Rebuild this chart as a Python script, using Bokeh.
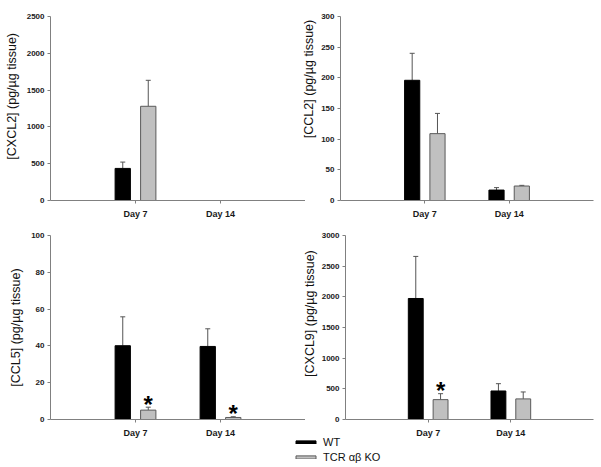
import math
from bokeh.plotting import figure
from bokeh.layouts import column, row
from bokeh.models import (ColumnDataSource, FactorRange, Range1d, FixedTicker,
                          Whisker, TeeHead, Legend, LegendItem)
from bokeh.transform import dodge
from bokeh.core.properties import value
from bokeh.embed import file_html
from bokeh.resources import INLINE

NAN = float("nan")
NBSP = "\u00a0"

# ---------------- data ----------------
days = ["Day 7", "Day 14"]
group_labels = ["WT", "TCR αβ KO"]

cxcl2_wt = [436, NAN]
cxcl2_wt_sem = [86, NAN]
cxcl2_ko = [1280, NAN]
cxcl2_ko_sem = [353, NAN]
cxcl2_star = [False, False]
cxcl2_ticks = [0, 500, 1000, 1500, 2000, 2500]

ccl2_wt = [196, 17]
ccl2_wt_sem = [44, 4]
ccl2_ko = [109, 23.6]
ccl2_ko_sem = [33, 1.1]
ccl2_star = [False, False]
ccl2_ticks = [0, 50, 100, 150, 200, 250, 300]

ccl5_wt = [40.1, 39.7]
ccl5_wt_sem = [15.7, 9.6]
ccl5_ko = [5.1, 1.1]
ccl5_ko_sem = [1.6, 0.4]
ccl5_star = [True, True]
ccl5_ticks = [0, 20, 40, 60, 80, 100]

cxcl9_wt = [1973, 465]
cxcl9_wt_sem = [686, 119]
cxcl9_ko = [324, 336]
cxcl9_ko_sem = [97, 113]
cxcl9_star = [True, False]
cxcl9_ticks = [0, 500, 1000, 1500, 2000, 2500, 3000]

FONT = "Liberation Sans"
AXIS_COLOR = "#808080"
ERR_COLOR = "#555555"
WT_COLOR = "black"
KO_COLOR = "#c0c0c0"
KO_LINE = "#5a5a5a"
OFF = 0.15
BAR_W = 0.18


def panel(ylabel, wt, wt_sem, ko, ko_sem, stars, ticks, width, height,
          bl, bt, bb, br, title_gap, title_shift):
    p = figure(x_range=FactorRange(factors=days, range_padding=0.5,
                                   range_padding_units="absolute"),
               y_range=Range1d(0, ticks[-1]),
               width=width, height=height, output_backend="svg",
               toolbar_location=None, min_border_left=bl, min_border_right=br,
               min_border_top=bt, min_border_bottom=bb)
    p.outline_line_color = None
    p.grid.visible = False
    p.background_fill_color = None
    p.border_fill_color = None

    src = ColumnDataSource(dict(
        day=days,
        wt=wt, wt_hi=[a + b for a, b in zip(wt, wt_sem)],
        ko=ko, ko_hi=[a + b for a, b in zip(ko, ko_sem)],
        star=["*" if s else "" for s in stars],
    ))
    p.vbar(x=dodge("day", -OFF, range=p.x_range), top="wt",
           width=BAR_W, source=src, fill_color=WT_COLOR,
           line_color=WT_COLOR, line_width=1)
    p.vbar(x=dodge("day", OFF, range=p.x_range), top="ko",
           width=BAR_W, source=src, fill_color=KO_COLOR,
           line_color=KO_LINE, line_width=1)
    for lo, hi, off in (("wt", "wt_hi", -OFF), ("ko", "ko_hi", OFF)):
        w = Whisker(source=src, base=dodge("day", off, range=p.x_range),
                    lower=lo, upper=hi, line_color=ERR_COLOR, line_width=1,
                    lower_head=None,
                    upper_head=TeeHead(size=5, line_color=ERR_COLOR,
                                       line_width=1))
        p.add_layout(w)
    p.text(x=dodge("day", OFF, range=p.x_range), y="ko_hi", text="star",
           source=src, text_font=value(FONT), text_font_style="bold",
           text_font_size="24px", text_align="center",
           text_baseline="alphabetic", y_offset=-3, text_color="black")

    xa = p.xaxis[0]
    xa.axis_line_color = AXIS_COLOR
    xa.major_tick_line_color = AXIS_COLOR
    xa.major_tick_in = 0
    xa.major_tick_out = 3
    xa.minor_tick_line_color = None
    xa.major_label_standoff = 5
    xa.major_label_text_font = FONT
    xa.major_label_text_font_style = "bold"
    xa.major_label_text_font_size = "9px"
    xa.major_label_text_color = "#1a1a1a"

    ya = p.yaxis[0]
    ya.ticker = FixedTicker(ticks=ticks)
    ya.axis_line_color = AXIS_COLOR
    ya.major_tick_line_color = AXIS_COLOR
    ya.major_tick_in = 0
    ya.major_tick_out = 3
    ya.minor_tick_line_color = None
    ya.major_label_standoff = 3
    ya.major_label_text_font = FONT
    ya.major_label_text_font_style = "bold"
    ya.major_label_text_font_size = "8px"
    ya.major_label_text_color = "#1a1a1a"
    # leading no-break spaces nudge the centred title up the axis
    ya.axis_label = NBSP * title_shift + ylabel
    ya.axis_label_text_font = FONT
    ya.axis_label_text_font_style = "normal"
    ya.axis_label_text_font_size = "12.5px"
    ya.axis_label_text_color = "#111111"
    ya.axis_label_standoff = title_gap
    return p


p1 = panel("[CXCL2] (pg/µg tissue)", cxcl2_wt, cxcl2_wt_sem, cxcl2_ko,
           cxcl2_ko_sem, cxcl2_star, cxcl2_ticks, 305, 227, 50, 16, 27, 0, 5, 7)
p2 = panel("[CCL2] (pg/µg tissue)", ccl2_wt, ccl2_wt_sem, ccl2_ko,
           ccl2_ko_sem, ccl2_star, ccl2_ticks, 298, 227, 40, 16, 27, 4, 2, 17)
p3 = panel("[CCL5] (pg/µg tissue)", ccl5_wt, ccl5_wt_sem, ccl5_ko,
           ccl5_ko_sem, ccl5_star, ccl5_ticks, 305, 213, 50, 8, 20, 0, 5, 0)
p4 = panel("[CXCL9] (pg/µg tissue)", cxcl9_wt, cxcl9_wt_sem, cxcl9_ko,
           cxcl9_ko_sem, cxcl9_star, cxcl9_ticks, 298, 213, 40, 8, 20, 4, 2, 8)
p2.margin = (0, 0, 0, -6)
p4.margin = (0, 0, 0, -6)

# legend-only figure, pulled up under the bottom panels
lg = figure(width=100, height=29, output_backend="svg", toolbar_location=None,
            x_range=Range1d(0, 1), y_range=Range1d(0, 1),
            x_axis_location=None, y_axis_location=None,
            min_border_left=0, min_border_right=0, min_border_top=0,
            min_border_bottom=0)
lg.outline_line_color = None
lg.grid.visible = False
lg.background_fill_color = None
lg.border_fill_color = None
leg_src = ColumnDataSource(dict(idx=[0, 1], wt=cxcl9_wt, ko=cxcl9_ko))
lg_wt = lg.vbar(x="idx", top="wt", width=0.1, source=leg_src,
                fill_color=WT_COLOR, line_color=WT_COLOR, visible=False)
lg_ko = lg.vbar(x="idx", top="ko", width=0.1, source=leg_src,
                fill_color=KO_COLOR, line_color=KO_LINE, visible=False)
legend = Legend(items=[LegendItem(label=group_labels[0], renderers=[lg_wt]),
                       LegendItem(label=group_labels[1], renderers=[lg_ko])],
                location="top_left", glyph_width=25, glyph_height=4,
                label_standoff=5, spacing=3, padding=0, margin=0,
                label_height=12, label_text_font=FONT,
                label_text_font_size="11px", label_text_color="#111111",
                border_line_color=None, background_fill_alpha=0)
lg.add_layout(legend)
lg.margin = (-4, 0, 0, 293)

layout = column(row(p1, p2), row(p3, p4), lg)

open("out.html", "w").write(file_html(layout, INLINE))
